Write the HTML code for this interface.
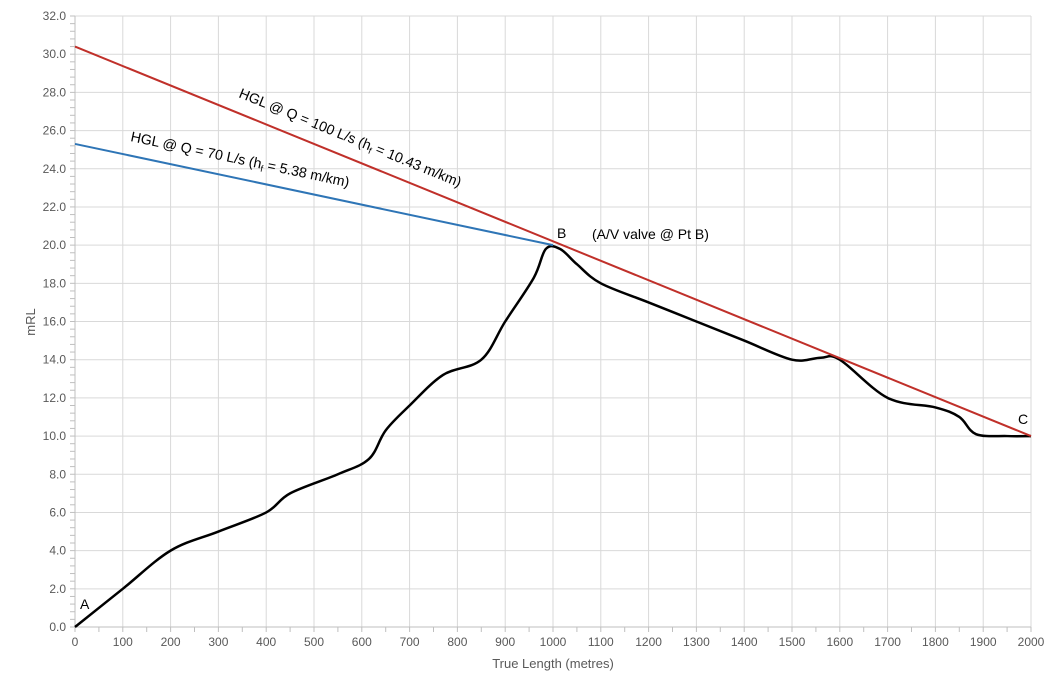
<!DOCTYPE html>
<html><head><meta charset="utf-8"><style>
body{margin:0;background:#fff}
svg text{font-family:"Liberation Sans",sans-serif}
</style></head><body>
<svg id="c" width="1058" height="689" xmlns="http://www.w3.org/2000/svg"></svg>
<script>
const xTicks=[0,100,200,300,400,500,600,700,800,900,1000,1100,1200,1300,1400,1500,1600,1700,1800,1900,2000];
const yTicks=[0,2,4,6,8,10,12,14,16,18,20,22,24,26,28,30,32];
const groundX=[0,100,200,300,400,450,550,615,650,700,770,850,900,960,985,1015,1050,1100,1200,1300,1400,1500,1560,1600,1700,1800,1850,1885,1950,2000];
const groundY=[0,2,4,5,6,7,8,8.8,10.3,11.6,13.2,14,16,18.3,19.8,19.8,19,18,17,16,15,14,14.1,14,12,11.5,11,10.1,10,10];
const hgl100X=[0,2000], hgl100Y=[30.4,10];
const hgl70X=[0,1000], hgl70Y=[25.3,20];
const NS="http://www.w3.org/2000/svg";
const svg=document.getElementById('c');
const X0=75,X1=1031,Y0=627,Y1=16;
const sx=v=>X0+(v-0)/(2000)*(X1-X0);
const sy=v=>Y0-(v/32)*(Y0-Y1);
function el(t,a,p){const e=document.createElementNS(NS,t);for(const k in a)e.setAttribute(k,a[k]);(p||svg).appendChild(e);return e;}
const grid=el('g',{});


xTicks.forEach(v=>{if(v>0)el('line',{x1:sx(v),x2:sx(v),y1:Y1,y2:Y0,stroke:'#d9d9d9','stroke-width':1},grid);});
yTicks.forEach(v=>{if(v>0)el('line',{x1:X0,x2:X1,y1:sy(v),y2:sy(v),stroke:'#d9d9d9','stroke-width':1},grid);});
const ax=el('g',{stroke:'#bfbfbf','stroke-width':1});


el('line',{x1:X0,x2:X1,y1:Y0,y2:Y0},ax);
el('line',{x1:X0,x2:X0,y1:Y1,y2:Y0},ax);
for(let v=0;v<=2000;v+=50)el('line',{x1:sx(v),x2:sx(v),y1:Y0,y2:Y0+5},ax);
for(let v=0;v<=32.001;v+=0.4)el('line',{x1:X0-5,x2:X0,y1:sy(v),y2:sy(v)},ax);
xTicks.forEach(v=>{const t=el('text',{x:sx(v),y:Y0+19,'text-anchor':'middle','font-size':12,fill:'#595959'});t.textContent=v;

});
yTicks.forEach(v=>{const t=el('text',{x:X0-9,y:sy(v)+4,'text-anchor':'end','font-size':12,fill:'#595959'});t.textContent=v.toFixed(1);

});
let t=el('text',{x:553,y:668,'text-anchor':'middle','font-size':13,fill:'#595959'});t.textContent='True Length (metres)';


t=el('text',{x:0,y:0,'text-anchor':'middle','font-size':13,fill:'#595959',transform:'translate(35,322) rotate(-90)'});t.textContent='mRL';


const pts=groundX.map((x,i)=>[sx(x),sy(groundY[i])]);
let d='M'+pts[0][0]+','+pts[0][1];
for(let i=0;i<pts.length-1;i++){const p0=pts[Math.max(0,i-1)],p1=pts[i],p2=pts[i+1],p3=pts[Math.min(pts.length-1,i+2)];
d+=` C${p1[0]+(p2[0]-p0[0])/6},${p1[1]+(p2[1]-p0[1])/6} ${p2[0]-(p3[0]-p1[0])/6},${p2[1]-(p3[1]-p1[1])/6} ${p2[0]},${p2[1]}`;}
const g=el('path',{d:d,fill:'none',stroke:'#000','stroke-width':2.5});


const b=el('line',{x1:sx(hgl70X[0]),y1:sy(hgl70Y[0]),x2:sx(hgl70X[1]),y2:sy(hgl70Y[1]),stroke:'#2e75b6','stroke-width':2});


const r=el('line',{x1:sx(hgl100X[0]),y1:sy(hgl100Y[0]),x2:sx(hgl100X[1]),y2:sy(hgl100Y[1]),stroke:'#c0302a','stroke-width':2});


function lbl(x,y,s,name,rot,fs){const e=el('text',{x:x,y:y,'font-size':fs||13,fill:'#000',transform:rot?`rotate(${rot} ${x} ${y})`:''});e.innerHTML=s;

}
lbl(238,97,'HGL @ Q = 100 L/s (h<tspan font-size="9" dy="3">f</tspan><tspan dy="-3"> = 10.43 m/km)</tspan>','hgl-100-label',22.2,14.2);
lbl(130,141,'HGL @ Q = 70 L/s (h<tspan font-size="9" dy="3">f</tspan><tspan dy="-3"> = 5.38 m/km)</tspan>','hgl-70-label',11.9,14.2);
lbl(80,609,'A','point-a-label',0,14);
lbl(557,238,'B','point-b-label',0,14);
lbl(592,239,'(A/V valve @ Pt B)','av-valve-label',0,14);
lbl(1018,424,'C','point-c-label',0,14);
</script>
</body></html>
